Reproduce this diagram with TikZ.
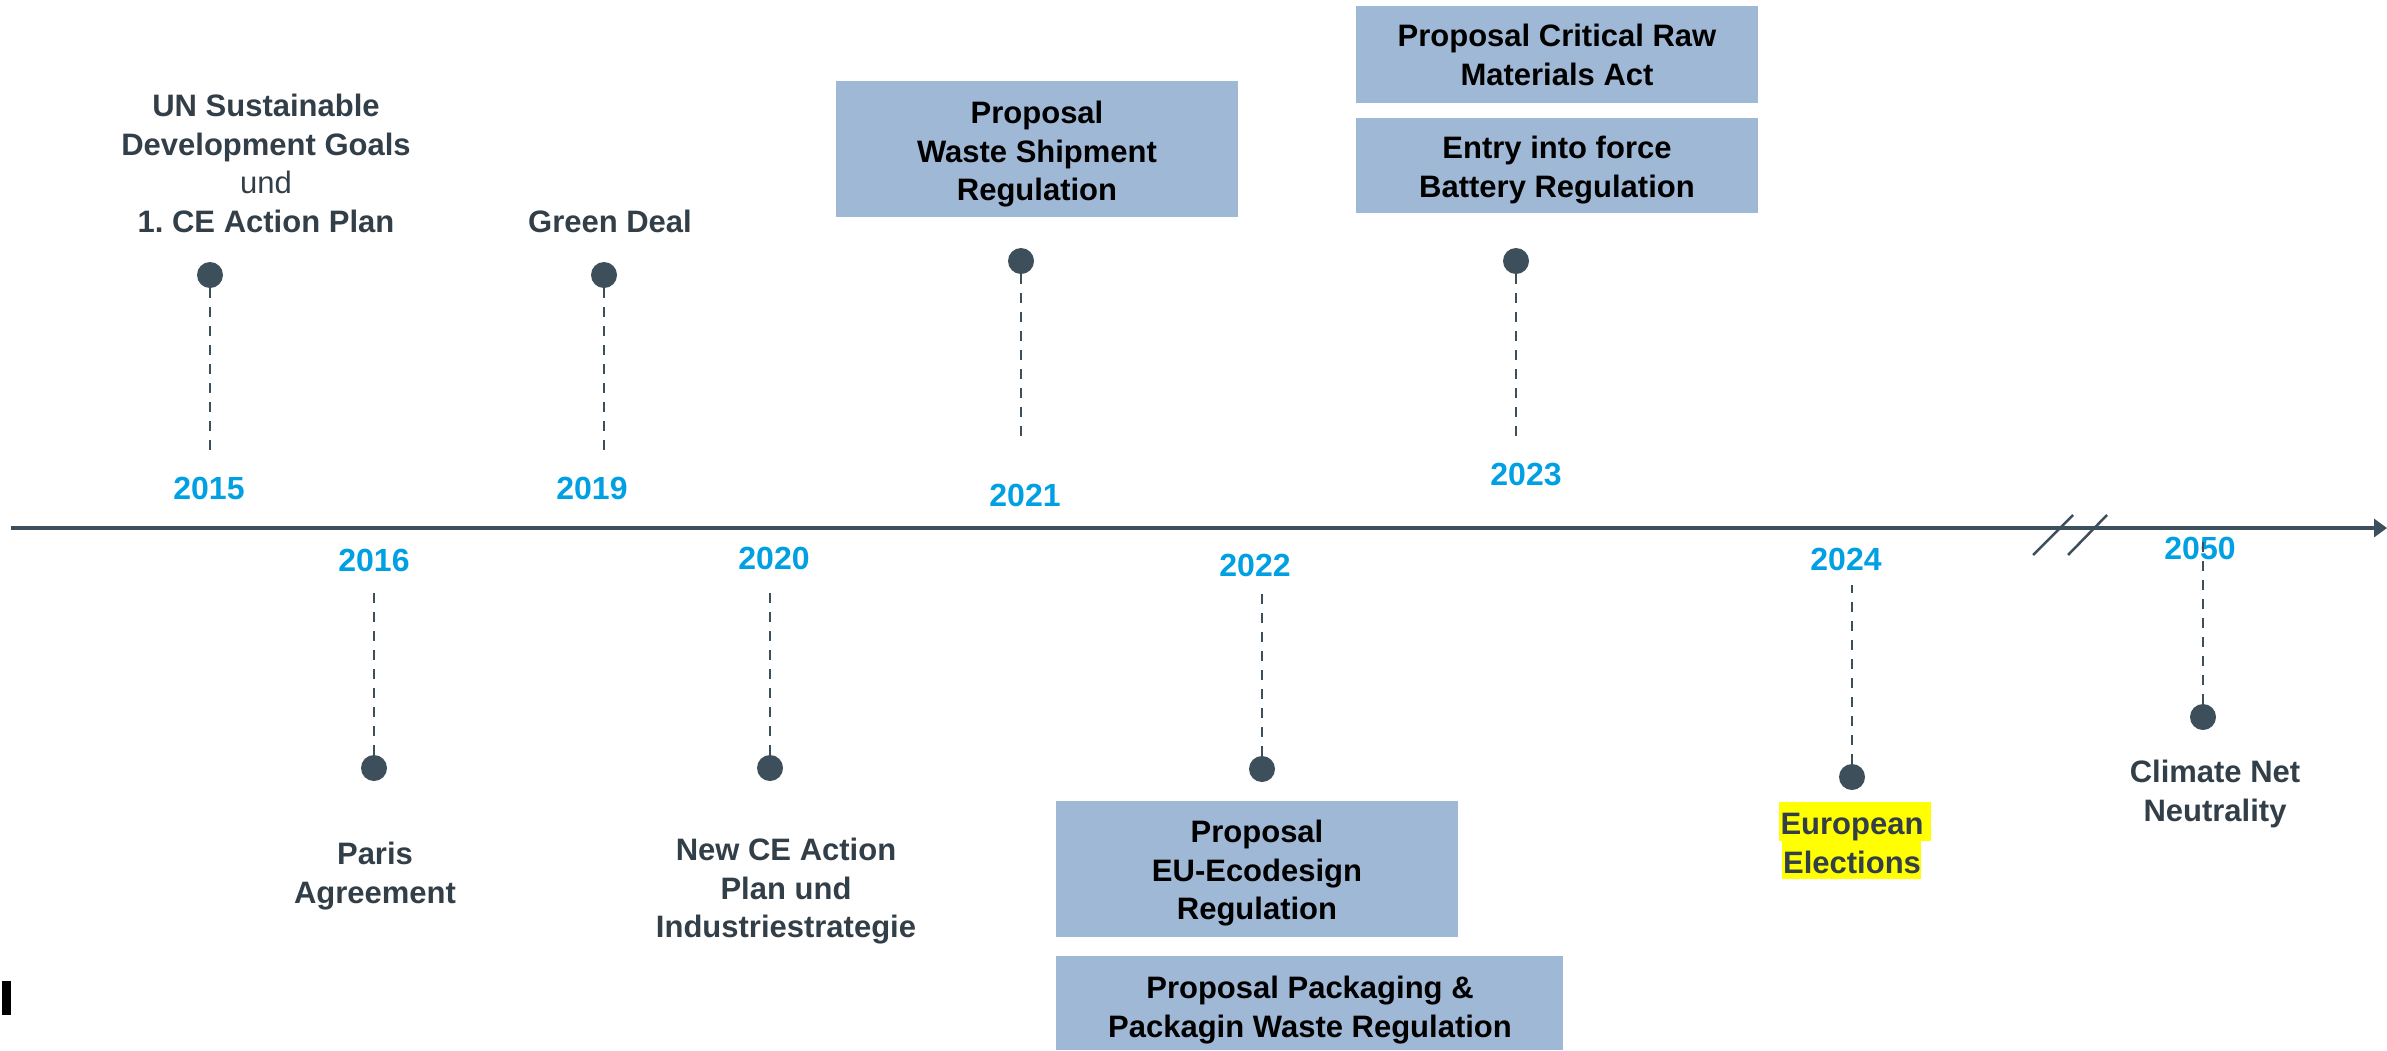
\documentclass[tikz,border=0pt]{standalone}
\usepackage{fontspec}
\setmainfont{Liberation Sans}
\usetikzlibrary{arrows.meta}
\definecolor{slate}{HTML}{333F48}
\definecolor{dotc}{HTML}{3D4F5B}
\definecolor{yearblue}{HTML}{00A0E3}
\definecolor{boxblue}{HTML}{9FB8D6}
\definecolor{hl}{HTML}{FFFF00}
\begin{document}
\begin{tikzpicture}[x=1pt,y=-1pt,
  dotn/.style={circle,fill=dotc,minimum size=26pt,inner sep=0pt},
  yearn/.style={font=\fontsize{32}{38}\selectfont\bfseries,text=yearblue,inner sep=0pt},
  lbl/.style={font=\fontsize{31}{38.5}\selectfont\bfseries,text=slate,align=center,inner sep=0pt,anchor=north},
  boxtxt/.style={lbl,text=black},
  boxr/.style={fill=boxblue},
  dashl/.style={draw=dotc,line width=2.5pt,dash pattern=on 10pt off 9pt},
  axisl/.style={draw=dotc,line width=3.5pt},
]
\useasboundingbox (0,0) rectangle (2387,1050);

% boxes
\fill[boxr] (836,81) rectangle (1238,217);
\fill[boxr] (1356,6) rectangle (1758,103);
\fill[boxr] (1356,118) rectangle (1758,213);
\fill[boxr] (1056,801) rectangle (1458,937);
\fill[boxr] (1056,956) rectangle (1563,1050);
% highlight
\fill[hl] (1779,802) rectangle (1931,841);
\fill[hl] (1782,841) rectangle (1921,879);
% stray bar
\fill[black] (2,981) rectangle (11,1015);

% axis
\coordinate (axs) at (11,528);
\coordinate (axe) at (2387,528);
\draw[axisl,-{Triangle[length=13pt,width=18pt]}] (axs) -- (axe);
\draw[dotc,line width=2.5pt] (2033,555) -- (2073,515) (2068,555) -- (2107,515);

% dots
\node[dotn] (d15) at (210,275) {};
\node[dotn] (d19) at (604,275) {};
\node[dotn] (d21) at (1021,261) {};
\node[dotn] (d23) at (1516,261) {};
\node[dotn] (d16) at (374,768) {};
\node[dotn] (d20) at (770,768) {};
\node[dotn] (d22) at (1262,769) {};
\node[dotn] (d24) at (1852,777) {};
\node[dotn] (d50) at (2203,717) {};

% years
\node[yearn] (y15) at (209,488) {2015};
\node[yearn] (y19) at (592,488) {2019};
\node[yearn] (y21) at (1025,495) {2021};
\node[yearn] (y23) at (1526,474) {2023};
\node[yearn] (y16) at (374,560) {2016};
\node[yearn] (y20) at (774,558) {2020};
\node[yearn] (y22) at (1255,565) {2022};
\node[yearn] (y24) at (1846,559) {2024};
\node[yearn] (y50) at (2200,548) {2050};

% dash ends
\coordinate (e15) at (210,457);
\coordinate (e19) at (604,458);
\coordinate (e21) at (1021,443);
\coordinate (e23) at (1516,443);
\coordinate (e16) at (374,585);
\coordinate (e20) at (770,585);
\coordinate (e22) at (1262,587);
\coordinate (e24) at (1852,585);
\coordinate (e50) at (2203,535);

\draw[dashl] (d15) -- (e15);
\draw[dashl] (d19) -- (e19);
\draw[dashl] (d21) -- (e21);
\draw[dashl] (d23) -- (e23);
\draw[dashl] (d16) -- (e16);
\draw[dashl] (d20) -- (e20);
\draw[dashl] (d22) -- (e22);
\draw[dashl] (d24) -- (e24);
\draw[dashl] (d50) -- (e50);

% labels
\node[lbl] (tun) at (266,94) {UN Sustainable\\Development Goals\\{\mdseries und}\\1.\ CE Action Plan};
\node[lbl] (tgd) at (610,210) {Green Deal};
\node[boxtxt] (tws) at (1037,101) {Proposal\\Waste Shipment\\Regulation};
\node[boxtxt] (tcrm) at (1557,24) {Proposal Critical Raw\\Materials Act};
\node[boxtxt] (tbat) at (1557,136) {Entry into force\\Battery Regulation};
\node[lbl] (tpa) at (375,842) {Paris\\Agreement};
\node[lbl] (tnce) at (786,838) {New CE Action\\Plan und\\Industriestrategie};
\node[boxtxt] (teco) at (1257,820) {Proposal\\EU-Ecodesign\\Regulation};
\node[boxtxt] (tpack) at (1310,976) {Proposal Packaging \&\\Packagin Waste Regulation};
\node[lbl] (tee) at (1852,813) {European\\Elections};
\node[lbl] (tcn) at (2215,760) {Climate Net\\Neutrality};
\end{tikzpicture}
\end{document}
